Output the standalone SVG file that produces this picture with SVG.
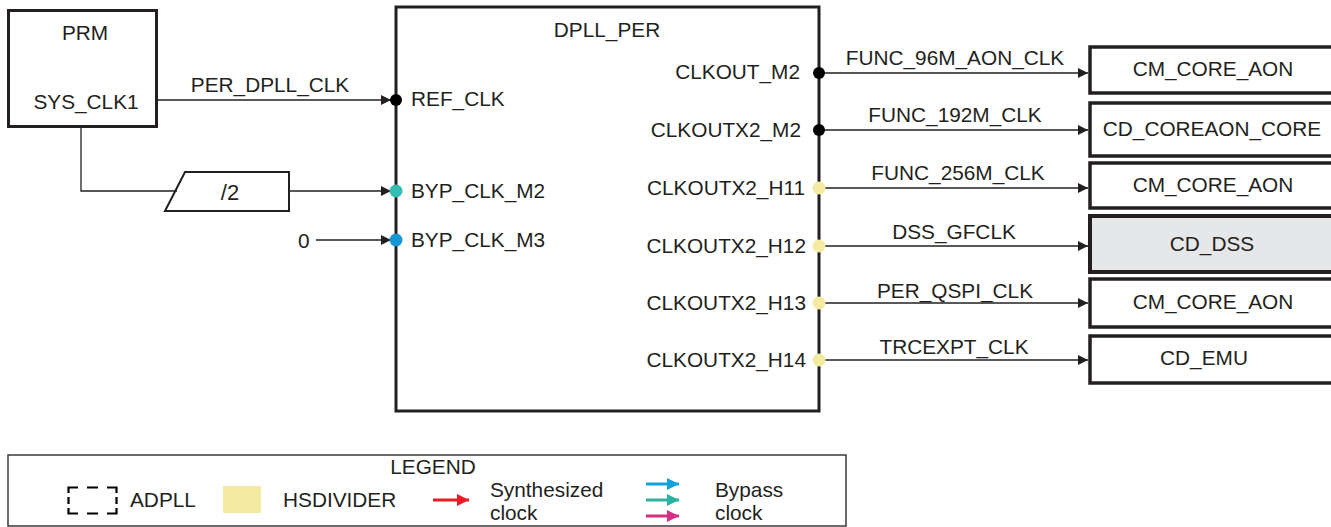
<svg xmlns="http://www.w3.org/2000/svg" width="1331" height="527" viewBox="0 0 1331 527">
<defs>
<style>
text{font-family:"Liberation Sans",Arial,sans-serif;font-size:20.8px;fill:#231f20}
.box{fill:#fff;stroke:#231f20;stroke-width:3}
.dest{fill:#fff;stroke:#231f20;stroke-width:3.5}
.ln{stroke:#231f20;stroke-width:1.3;fill:none}
.mid{text-anchor:middle}
.end{text-anchor:end}
.blk{fill:#000}
.yel{fill:#f3eba2}
.dash{fill:none;stroke:#000;stroke-width:2.2}
</style>
<marker id="ah" viewBox="0 0 10 10" refX="10" refY="5" markerWidth="10" markerHeight="10" markerUnits="userSpaceOnUse" orient="auto"><path d="M0,0 L10,5 L0,10 z" fill="#231f20"/></marker>
<marker id="ahR" viewBox="0 0 10 10" refX="10" refY="5" markerWidth="12" markerHeight="12" markerUnits="userSpaceOnUse" orient="auto"><path d="M0,0 L10,5 L0,10 z" fill="#ed1c24"/></marker>
<marker id="ahB" viewBox="0 0 10 10" refX="10" refY="5" markerWidth="12" markerHeight="12" markerUnits="userSpaceOnUse" orient="auto"><path d="M0,0 L10,5 L0,10 z" fill="#12a3df"/></marker>
<marker id="ahT" viewBox="0 0 10 10" refX="10" refY="5" markerWidth="12" markerHeight="12" markerUnits="userSpaceOnUse" orient="auto"><path d="M0,0 L10,5 L0,10 z" fill="#2bb3a0"/></marker>
<marker id="ahM" viewBox="0 0 10 10" refX="10" refY="5" markerWidth="12" markerHeight="12" markerUnits="userSpaceOnUse" orient="auto"><path d="M0,0 L10,5 L0,10 z" fill="#d33284"/></marker>
</defs>
<rect width="1331" height="527" fill="#fff"/>

<g id="prm">
<rect class="box" x="8.5" y="10.5" width="148" height="116"/>
<text class="mid" x="85" y="40">PRM</text>
<text class="mid" x="86" y="109">SYS_CLK1</text>
</g>

<g id="div2">
<path d="M185,172 L289,172 L289,211 L165,211 z" fill="#fff" stroke="#231f20" stroke-width="2"/>
<text class="mid" x="230" y="200" style="font-size:22px">/2</text>
</g>

<g id="zero">
<text x="298" y="248">0</text>
</g>

<g id="dpll_per">
<rect class="box" x="396" y="7" width="423" height="404"/>
<text class="mid" x="607" y="37">DPLL_PER</text>
<text x="411" y="106">REF_CLK</text>
<text x="411" y="198">BYP_CLK_M2</text>
<text x="411" y="247">BYP_CLK_M3</text>
<text class="end" x="800" y="79">CLKOUT_M2</text>
<text class="end" x="801" y="137">CLKOUTX2_M2</text>
<text class="end" x="805" y="195">CLKOUTX2_H11</text>
<text class="end" x="806" y="253">CLKOUTX2_H12</text>
<text class="end" x="806" y="310">CLKOUTX2_H13</text>
<text class="end" x="806" y="367">CLKOUTX2_H14</text>
</g>

<g id="connectors">
<path class="ln" d="M158,100 H391" marker-end="url(#ah)"/>
<text class="mid" x="270" y="92">PER_DPLL_CLK</text>
<path class="ln" d="M81,128 V191 H177"/>
<path class="ln" d="M289,191 H391" marker-end="url(#ah)"/>
<path class="ln" d="M316,240 H391" marker-end="url(#ah)"/>

<path class="ln" d="M819,73 H1088" marker-end="url(#ah)"/>
<text class="mid" x="955" y="65">FUNC_96M_AON_CLK</text>
<path class="ln" d="M819,130 H1088" marker-end="url(#ah)"/>
<text class="mid" x="955" y="122">FUNC_192M_CLK</text>
<path class="ln" d="M819,188 H1088" marker-end="url(#ah)"/>
<text class="mid" x="958" y="180">FUNC_256M_CLK</text>
<path class="ln" d="M819,246 H1088" marker-end="url(#ah)"/>
<text class="mid" x="954" y="239">DSS_GFCLK</text>
<path class="ln" d="M819,303 H1088" marker-end="url(#ah)"/>
<text class="mid" x="955" y="298">PER_QSPI_CLK</text>
<path class="ln" d="M819,360 H1088" marker-end="url(#ah)"/>
<text class="mid" x="954" y="354">TRCEXPT_CLK</text>

<circle class="blk" cx="396" cy="100" r="6"/>
<circle cx="396" cy="191" r="6.5" fill="#35bdb3"/>
<circle cx="396" cy="240" r="6.5" fill="#1796d3"/>
<circle class="blk" cx="819" cy="73" r="6"/>
<circle class="blk" cx="819" cy="130" r="6"/>
<circle class="yel" cx="819" cy="188" r="6.5"/>
<circle class="yel" cx="819" cy="246" r="6.5"/>
<circle class="yel" cx="819" cy="303" r="6.5"/>
<circle class="yel" cx="819" cy="360" r="6.5"/>
</g>

<g id="cm_core_aon_1">
<rect class="dest" x="1090" y="47" width="260" height="46"/>
<text class="mid" x="1213" y="76">CM_CORE_AON</text>
</g>
<g id="cd_coreaon_core">
<rect class="dest" x="1090" y="103" width="260" height="53"/>
<text class="mid" x="1212" y="136">CD_COREAON_CORE</text>
</g>
<g id="cm_core_aon_2">
<rect class="dest" x="1090" y="163" width="260" height="45"/>
<text class="mid" x="1213" y="192">CM_CORE_AON</text>
</g>
<g id="cd_dss">
<rect x="1090" y="216" width="260" height="56" fill="#e6e7e8" stroke="#231f20" stroke-width="4"/>
<text class="mid" x="1212" y="251">CD_DSS</text>
</g>
<g id="cm_core_aon_3">
<rect class="dest" x="1090" y="279" width="260" height="48"/>
<text class="mid" x="1213" y="309">CM_CORE_AON</text>
</g>
<g id="cd_emu">
<rect class="dest" x="1090" y="336" width="260" height="47"/>
<text class="mid" x="1204" y="365">CD_EMU</text>
</g>

<g id="legend">
<rect x="8" y="455" width="838" height="71" fill="none" stroke="#3a3a3a" stroke-width="1.5"/>
<text class="mid" x="433" y="474">LEGEND</text>
<path class="dash" d="M68.5,493 V487.5 H78 M87,487.5 H98 M107,487.5 H116.5 V493 M116.5,497 V504 M116.5,508 V513.5 H107 M98,513.5 H87 M78,513.5 H68.5 V508 M68.5,497 V504"/>
<text x="130" y="507">ADPLL</text>
<rect x="223" y="486" width="38" height="27" fill="#f3eba2"/>
<text x="283" y="507">HSDIVIDER</text>
<path d="M433,500 H469" stroke="#ed1c24" stroke-width="3" fill="none" marker-end="url(#ahR)"/>
<text x="490" y="497">Synthesized</text>
<text x="490" y="520">clock</text>
<path d="M646,484 H679" stroke="#12a3df" stroke-width="3" fill="none" marker-end="url(#ahB)"/>
<path d="M646,500 H679" stroke="#2bb3a0" stroke-width="3" fill="none" marker-end="url(#ahT)"/>
<path d="M646,516 H679" stroke="#d33284" stroke-width="3" fill="none" marker-end="url(#ahM)"/>
<text x="715" y="497">Bypass</text>
<text x="715" y="520">clock</text>
</g>
</svg>
